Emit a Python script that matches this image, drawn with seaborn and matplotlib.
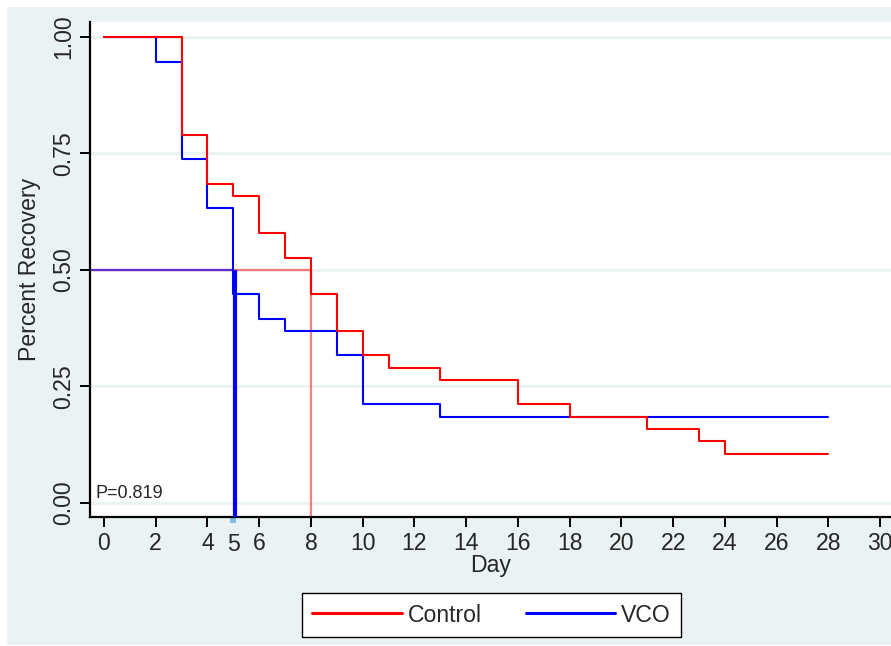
import numpy as np
import pandas as pd
import seaborn as sns
import matplotlib
matplotlib.use("Agg")
import matplotlib.pyplot as plt
from matplotlib.patches import Rectangle
from matplotlib.lines import Line2D

# ---------------- data ----------------
control_days = [0, 3, 4, 5, 6, 7, 8, 9, 10, 11, 13, 16, 18, 21, 23, 24, 28]
control_surv = [1.0, 0.789, 0.684, 0.658, 0.579, 0.526, 0.447, 0.368, 0.316,
                0.289, 0.263, 0.211, 0.184, 0.158, 0.132, 0.105, 0.105]
vco_days = [0, 2, 3, 4, 5, 6, 7, 9, 10, 13, 28]
vco_surv = [1.0, 0.947, 0.737, 0.632, 0.447, 0.395, 0.368, 0.316, 0.211, 0.184, 0.184]
group_labels = ["Control", "VCO"]
median_control = 8
median_vco = 5
median_level = 0.5
p_text = "P=0.819"
x_ticks = list(range(0, 31, 2))
y_ticks = [0.0, 0.25, 0.5, 0.75, 1.0]
y_ticklabels = ["0.00", "0.25", "0.50", "0.75", "1.00"]

df = pd.concat([
    pd.DataFrame({"Day": control_days, "Survival": control_surv, "Group": group_labels[0]}),
    pd.DataFrame({"Day": vco_days, "Survival": vco_surv, "Group": group_labels[1]}),
], ignore_index=True)

# ---------------- style ----------------
sns.set_style("white")
plt.rcParams["font.family"] = ["Liberation Sans", "DejaVu Sans"]
BG = "#EAF2F3"
RED = "#FF0000"
BLUE = "#0000FF"
FS = 16.6

W, H = 891, 646
fig = plt.figure(figsize=(W / 100, H / 100), dpi=100, facecolor="white")
fig.patches.append(Rectangle((7 / W, 1 / H), (W - 7) / W, (H - 8) / H,
                             transform=fig.transFigure, facecolor=BG,
                             edgecolor="none", zorder=-10))
ax = fig.add_axes([90 / W, (H - 517) / H, (W - 90) / W, (517 - 22) / H])
ax.set_facecolor("white")

x0 = -0.54
ax.set_xlim(x0, 30.42)
ax.set_ylim(-0.031, 1.032)

# grid lines
for yv in y_ticks:
    ax.axhline(yv, color=BG, lw=2.0, zorder=0)

# KM step curves
sns.lineplot(data=df, x="Day", y="Survival", hue="Group",
             palette={group_labels[0]: RED, group_labels[1]: BLUE},
             hue_order=[group_labels[1], group_labels[0]],
             drawstyle="steps-post", estimator=None, sort=False,
             lw=1.5, ax=ax, zorder=3)

# median lines
ax.plot([x0, median_control], [median_level, median_level], color=RED, alpha=0.5, lw=1.6, zorder=2)
ax.plot([median_control, median_control], [median_level, -0.031], color=RED, alpha=0.5, lw=1.6, zorder=2)
ax.plot([x0, median_vco], [median_level, median_level], color=BLUE, alpha=0.62, lw=1.6, zorder=2)
ax.plot([median_vco + 0.06, median_vco + 0.06], [median_level, -0.031], color=BLUE, lw=3.0, zorder=4,
        solid_capstyle="butt")

ax.text(-0.32, 0.009, p_text, fontsize=13, ha="left", va="baseline", zorder=5)

# axes
for s in ["top", "right"]:
    ax.spines[s].set_visible(False)
for s in ["left", "bottom"]:
    ax.spines[s].set_color("black")
    ax.spines[s].set_linewidth(1.6)

ax.set_xticks(x_ticks)
ax.set_xticklabels([str(v) for v in x_ticks])
ax.set_xticks([median_vco], minor=True)
ax.set_xticklabels([str(median_vco)], minor=True)
ax.set_yticks(y_ticks)
ax.set_yticklabels(y_ticklabels, rotation=90, va="center")

ax.tick_params(axis="both", which="major", direction="out", length=7.2, width=1.4,
               color="black", labelsize=FS, pad=3.5, left=True, bottom=True)
ax.tick_params(axis="x", which="minor", direction="out", length=4.3, width=4.3,
               color="#80BDE6", labelsize=FS, pad=7.0, bottom=True)

ax.set_xlabel("Day", fontsize=FS, labelpad=-1.5)
ax.set_ylabel("Percent Recovery", fontsize=FS, labelpad=8)

# legend
leg_old = ax.get_legend()
if leg_old is not None:
    leg_old.remove()
lh = [Line2D([], [], color=RED, lw=2.2), Line2D([], [], color=BLUE, lw=2.2)]
leg = fig.legend(lh, group_labels, loc="center",
                 bbox_to_anchor=(491.5 / W, 1 - 615 / H), ncol=2,
                 fontsize=FS, handlelength=3.9, handletextpad=0.25,
                 columnspacing=1.9, frameon=True, fancybox=False,
                 borderpad=0.45, borderaxespad=0)
leg.get_frame().set_edgecolor("black")
leg.get_frame().set_linewidth(1.0)
leg.get_frame().set_facecolor("white")
leg.get_frame().set_alpha(1)

fig.savefig("out.png", dpi=100, facecolor="white")
